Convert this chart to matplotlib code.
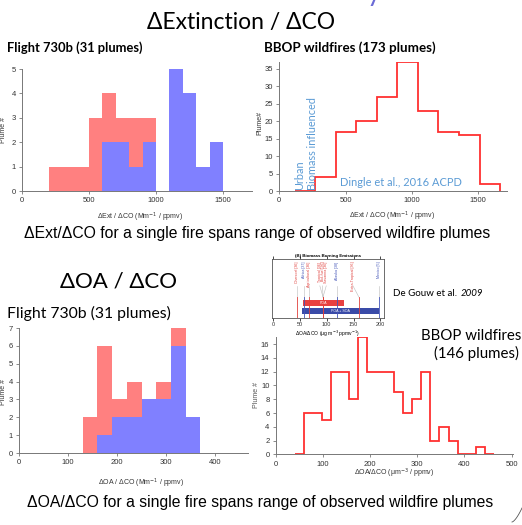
import matplotlib.pyplot as plt
from matplotlib.lines import Line2D
import numpy as np

W, H = 522, 525

# ---- data ----
# Flight 730b, dExt/dCO, 100-wide bins from 200 to 1500 (stacked: blue below, red on top)
ext_edges = list(range(200, 1501, 100))
ext_blue = [0, 0, 0, 0, 2, 2, 1, 2, 0, 5, 4, 1, 2]
ext_red = [1, 1, 1, 3, 2, 1, 2, 1, 0, 0, 0, 0, 0]

# BBOP wildfires, dExt/dCO step histogram
bbop_ext_edges = [115, 270, 425, 580, 735, 890, 1045, 1200, 1355, 1510, 1665]
bbop_ext_counts = [0, 4, 17, 20, 27, 37, 23, 17, 16, 2]

# Flight 730b, dOA/dCO, 30-wide bins from 130 to 370
oa_edges = list(range(130, 371, 30))
oa_blue = [0, 1, 2, 2, 3, 3, 6, 2]
oa_red = [2, 5, 1, 2, 0, 1, 1, 0]

# BBOP wildfires, dOA/dCO step histogram (bin width 19.2 from 40)
bbop_oa_edges = [40 + 19.2 * i for i in range(23)]
bbop_oa_counts = [0, 6, 6, 5, 12, 12, 8, 17, 12, 12, 12, 9, 6, 8, 12, 2, 4, 2, 0, 0, 1, 0]

# De Gouw et al. 2009 inset
dg_labels = ['Charcoal [36]', 'Africa [37]', 'Agricultural [36]', 'Tropical [36]',
             'Bio-fuel [36]', 'Savanna [36]', 'Alaska [38]', 'Extra-Tropical [36]', 'Mexico [5]']
dg_label_x = [45, 57, 67, 87, 92, 99, 120, 149, 198]
dg_line_x = [45, 57, 67, 93, 93, 93, 120, 160, 198]
dg_colors = ['#e0403c', '#4455b8', '#e0403c', '#e0403c', '#e0403c', '#e0403c',
             '#4455b8', '#e0403c', '#4455b8']
poa_range = [55, 133]
poa_soa_range = [53, 197]

RED = '#ff8080'
BLUE = '#8080ff'
STEP = '#ff3030'
CITE = '#5b9bd5'
SANS = ['Lato', 'DejaVu Sans']
ARIAL = ['Liberation Sans', 'DejaVu Sans']

plt.rcParams['font.family'] = ARIAL

fig = plt.figure(figsize=(W / 100, H / 100), dpi=100)


def ptext(x, y, s, **kw):
    fig.text(x / W, 1 - y / H, s, **kw)


def add_ax(l, t, r, b):
    return fig.add_axes([l / W, 1 - b / H, (r - l) / W, (b - t) / H])


def style(ax):
    for s in ['top', 'right']:
        ax.spines[s].set_visible(False)
    for s in ['left', 'bottom']:
        ax.spines[s].set_color('#777777')
        ax.spines[s].set_linewidth(0.7)
    ax.tick_params(direction='out', length=2.5, width=0.6, color='#777777',
                   labelsize=5.5, labelcolor='#333333', pad=2)


# ---- top-left: Flight 730b extinction ----
ax1 = add_ax(22, 69, 252, 191)
ax1.bar(ext_edges[:-1], ext_blue, width=100, align='edge', color=BLUE, linewidth=0)
ax1.bar(ext_edges[:-1], ext_red, width=100, align='edge', bottom=ext_blue, color=RED,
        linewidth=0)
ax1.set_xlim(0, 1716)
ax1.set_ylim(0, 5)
ax1.set_xticks([0, 500, 1000, 1500])
ax1.set_yticks(range(6))
style(ax1)

# ---- top-right: BBOP extinction ----
ax2 = add_ax(279.3, 62, 506.7, 191)
ax2.stairs(bbop_ext_counts, bbop_ext_edges, baseline=0, color=STEP, linewidth=1.3)
ax2.set_xlim(0, 1715)
ax2.set_ylim(0, 37)
ax2.set_xticks([0, 500, 1000, 1500])
ax2.set_yticks(range(0, 36, 5))
style(ax2)

# ---- bottom-left: Flight 730b OA ----
ax3 = add_ax(19, 328, 248, 453)
ax3.bar(oa_edges[:-1], oa_blue, width=30, align='edge', color=BLUE, linewidth=0)
ax3.bar(oa_edges[:-1], oa_red, width=30, align='edge', bottom=oa_blue, color=RED,
        linewidth=0)
ax3.set_xlim(0, 467)
ax3.set_ylim(0, 7)
ax3.set_xticks(range(0, 401, 100))
ax3.set_yticks(range(8))
style(ax3)

# ---- bottom-right: BBOP OA ----
ax4 = add_ax(275.7, 337.3, 513, 454.3)
ax4.stairs(bbop_oa_counts, bbop_oa_edges, baseline=0, color=STEP, linewidth=1.3)
ax4.set_xlim(0, 503)
ax4.set_ylim(0, 17)
ax4.set_xticks(range(0, 501, 100))
ax4.set_yticks(range(0, 17, 2))
style(ax4)

# ---- inset: De Gouw et al. 2009 ----
axi = add_ax(271.7, 259.3, 384, 318.3)
axi.set_xlim(-3, 207)
axi.set_ylim(0, 1)
for x, lx, c, lab in zip(dg_line_x, dg_label_x, dg_colors, dg_labels):
    axi.text(lx, 0.96, lab, rotation=90, ha='center', va='top', fontsize=2.6, color=c)
    axi.plot([lx, x], [0.55, 0.36], color='#bbbbbb', linewidth=0.4)
    axi.plot([x, x], [0.36, 0.0], color=c, linewidth=0.6)
axi.barh(0.26, poa_range[1] - poa_range[0], left=poa_range[0], height=0.1, color='#e84040')
axi.barh(0.12, poa_soa_range[1] - poa_soa_range[0], left=poa_soa_range[0], height=0.11,
         color='#3a4ba8')
axi.text(sum(poa_range) / 2, 0.26, 'POA', ha='center', va='center', fontsize=2.6, color='white')
axi.text(sum(poa_soa_range) / 2, 0.12, 'POA + SOA', ha='center', va='center', fontsize=2.6,
         color='white')
axi.set_yticks([])
axi.set_xticks(range(0, 201, 50))
for s in axi.spines.values():
    s.set_color('#555555')
    s.set_linewidth(0.6)
axi.tick_params(axis='x', direction='out', length=2, width=0.5, labelsize=4, pad=1,
                labelcolor='#333333', top=True)
axi.set_title('(B) Biomass Burning Emissions', fontsize=3.2, fontweight='bold', pad=2)
axi.set_xlabel('ΔOA/ΔCO (μg m$^{-3}$ ppmv$^{-1}$)', fontsize=3.6, labelpad=1)

# ---- axis labels ----
ptext(140, 211, 'ΔExt / ΔCO (Mm$^{-1}$ / ppmv)', fontsize=5, ha='center', va='top', color='#333333')
ptext(392, 210, 'ΔExt / ΔCO (Mm$^{-1}$ / ppmv)', fontsize=5, ha='center', va='top', color='#333333')
ptext(141, 477, 'ΔOA / ΔCO (Mm$^{-1}$ / ppmv)', fontsize=5, ha='center', va='top', color='#333333')
ptext(394, 467, 'ΔOA/ΔCO (μm$^{-3}$ / ppmv)', fontsize=5, ha='center', va='top', color='#333333')
ptext(4, 130, 'Plume #', fontsize=5, rotation=90, ha='center', va='center', color='#333333')
ptext(260, 123, 'Plume#', fontsize=5, rotation=90, ha='center', va='center', color='#333333')
ptext(4, 392, 'Plume #', fontsize=5, rotation=90, ha='center', va='center', color='#333333')
ptext(257, 395, 'Plume #', fontsize=5, rotation=90, ha='center', va='center', color='#555555')

# ---- annotations on the BBOP extinction panel ----
ptext(300, 190, 'Urban', fontsize=7.8, rotation=90, ha='center', va='bottom', color=CITE,
      family=SANS)
ptext(313, 190, 'Biomass influenced', fontsize=7.8, rotation=90, ha='center', va='bottom',
      color=CITE, family=SANS)
ptext(340, 182, 'Dingle et al., 2016 ACPD', fontsize=7.9, ha='left', va='center', color=CITE,
      family=SANS)

# ---- slide titles and captions ----
ptext(374, 1, 'y', fontsize=20, ha='center', va='baseline', color='#6b6bd6', family=SANS)
ptext(241, 23, 'ΔExtinction / ΔCO', fontsize=16.5, ha='center', va='center', family=SANS)
ptext(7, 48, 'Flight 730b (31 plumes)', fontsize=9.3, fontweight='bold', ha='left',
      va='center', family=SANS)
ptext(264, 48, 'BBOP wildfires (173 plumes)', fontsize=9.6, fontweight='bold', ha='left',
      va='center', family=SANS)
ptext(257, 233, 'ΔExt/ΔCO for a single fire spans range of observed wildfire plumes',
      fontsize=11.3, ha='center', va='center')
ptext(118, 282, 'ΔOA / ΔCO', fontsize=16, ha='center', va='center', family=SANS)
ptext(7, 313, 'Flight 730b (31 plumes)', fontsize=11.3, ha='left', va='center', family=SANS)
ptext(393, 293, 'De Gouw et al. ', fontsize=7, ha='left', va='center', family=SANS)
ptext(461, 293, '2009', fontsize=7, ha='left', va='center', style='italic', family=SANS)
ptext(521, 336, 'BBOP wildfires', fontsize=10.8, ha='right', va='center', family=SANS)
ptext(519, 353, '(146 plumes)', fontsize=10.8, ha='right', va='center', family=SANS)
ptext(260, 503, 'ΔOA/ΔCO for a single fire spans range of observed wildfire plumes',
      fontsize=11.3, ha='center', va='center')

# slide corner decoration
t = np.linspace(0, 1, 20)
fig.add_artist(Line2D((512 + 10 * t) / W, 1 - (522 - 14 * t ** 1.5) / H,
                      color='#555555', linewidth=0.6))

fig.savefig('out.png', dpi=100)
